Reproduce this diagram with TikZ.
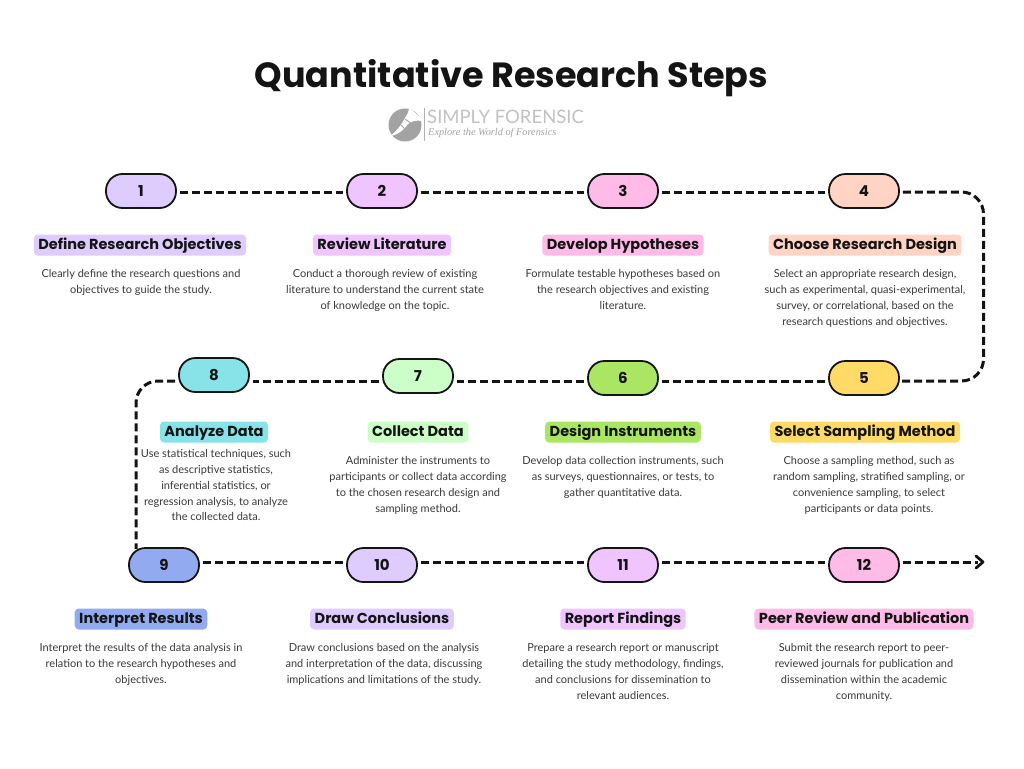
\documentclass[tikz,border=0pt]{standalone}
\usepackage{fontspec}
\setmainfont{Lato}
\newfontfamily\headfont{Poppins}
\newfontfamily\logofont{Liberation Serif}
\usetikzlibrary{arrows.meta,calc}
\definecolor{ink}{HTML}{141414}
\definecolor{bodyc}{HTML}{3A3A3A}
\definecolor{c1}{HTML}{DFCCFF}
\definecolor{c2}{HTML}{EFC4FF}
\definecolor{c3}{HTML}{FFBBE8}
\definecolor{c4}{HTML}{FFD4C4}
\definecolor{c5}{HTML}{FFDA66}
\definecolor{c6}{HTML}{ABE663}
\definecolor{c7}{HTML}{CCFFC7}
\definecolor{c8}{HTML}{88E3E8}
\definecolor{c9}{HTML}{92AAF0}
\tikzset{
  pill/.style={draw=ink,line width=1.8pt,rounded corners=16.5pt,minimum width=70pt,minimum height=34pt,inner sep=0pt,font=\headfont\fontsize{15}{15}\selectfont\bfseries,text=ink},
  tag/.style={fill=#1,rounded corners=4pt,inner xsep=4.5pt,inner ysep=4pt,text height=10.5pt,text depth=2.5pt,font=\headfont\fontsize{14.5}{15}\selectfont\bfseries,text=ink},
  desc/.style={align=center,anchor=north,inner sep=0pt,font=\fontsize{11}{15.9}\selectfont,text=bodyc},
  link/.style={draw=ink,line width=3pt,dash pattern=on 8pt off 4pt,rounded corners=22pt}
}
\begin{document}
\begin{tikzpicture}[x=1pt,y=-1pt]
\useasboundingbox (0,0) rectangle (1024,768);
\fill[white] (0,0) rectangle (1024,768);
\node[font=\headfont\fontsize{35}{40}\selectfont\bfseries,text=ink,inner sep=0pt] (title) at (511.5,78) {Quantitative Research Steps};
% logo
\fill[black!36] (405,125) circle (16.5pt);
\fill[white] (409,108) .. controls (415,112) and (419,116) .. (423,121) .. controls (416,120) and (412,121) .. (408,124) .. controls (404,130) and (398,135) .. (390,136) .. controls (397,131) and (402,124) .. (405,118) .. controls (407,115) and (409,111) .. (409,108) -- cycle;
\draw[black!36,line width=.9pt] (401,125) -- (407,131) (405,119) -- (412,124);
\draw[black!30,line width=.7pt] (424,108) -- (424,141);
\node[anchor=west,inner sep=0pt,font=\fontsize{18.5}{20}\selectfont,text=black!24] (logoa) at (427,117) {SIMPLY FORENSIC};
\node[anchor=west,inner sep=0pt,font=\logofont\fontsize{10.3}{12}\selectfont\itshape,text=black!36] (logob) at (428,133) {Explore the World of Forensics};
% pills
\foreach \n/\x/\y/\c in {1/141/191/c1,2/382/191/c2,3/623/191/c3,4/864/191/c4,5/864/378/c5,6/623/378/c6,7/418/376/c7,8/214/375/c8,9/164/565/c9,10/382/565/c1,11/623/565/c2,12/864/565/c3}
  \node[pill,fill=\c] (p\n) at (\x,\y) {\n};
\coordinate (rowa) at (0,192);
\coordinate (rowb) at (0,381);
\coordinate (rowc) at (0,562);
\coordinate (ne) at (983.5,192);
\coordinate (se) at (983.5,381);
\coordinate (nw) at (136,381);
\coordinate (sw) at (136,549);
\coordinate (endc) at (978,562);
% connectors
\draw[link] ([xshift=3pt]p1.east |- rowa) -- ([xshift=-3pt]p2.west |- rowa);
\draw[link] ([xshift=3pt]p2.east |- rowa) -- ([xshift=-3pt]p3.west |- rowa);
\draw[link] ([xshift=3pt]p3.east |- rowa) -- ([xshift=-3pt]p4.west |- rowa);
\draw[link] ([xshift=3pt]p4.east |- rowa) -- (ne) -- (se) -- ([xshift=1pt]p5.east |- rowb);
\draw[link] ([xshift=-3pt]p5.west |- rowb) -- ([xshift=3pt]p6.east |- rowb);
\draw[link] ([xshift=-3pt]p6.west |- rowb) -- ([xshift=3pt]p7.east |- rowb);
\draw[link] ([xshift=-3pt]p7.west |- rowb) -- ([xshift=3pt]p8.east |- rowb);
\draw[link] ([xshift=-3pt]p8.west |- rowb) -- (nw) -- (sw);
\draw[link] ([xshift=3pt]p9.east |- rowc) -- ([xshift=-3pt]p10.west |- rowc);
\draw[link] ([xshift=3pt]p10.east |- rowc) -- ([xshift=-3pt]p11.west |- rowc);
\draw[link] ([xshift=3pt]p11.east |- rowc) -- ([xshift=-3pt]p12.west |- rowc);
\draw[link] ([xshift=3pt]p12.east |- rowc) -- (endc);
\draw[ink,line width=2.8pt,line cap=round,line join=round] (976,556) -- (983,562) -- (976,568);
% tags
\node[tag=c1] (t1) at (140,245) {Define Research Objectives};
\node[tag=c2] (t2) at (382,245) {Review Literature};
\node[tag=c3] (t3) at (623,245) {Develop Hypotheses};
\node[tag=c4] (t4) at (865,245) {Choose Research Design};
\node[tag=c5] (t5) at (865,432) {Select Sampling Method};
\node[tag=c6] (t6) at (623,432) {Design Instruments};
\node[tag=c7] (t7) at (418,432) {Collect Data};
\node[tag=c8] (t8) at (214,432) {Analyze Data};
\node[tag=c9] (t9) at (141,619) {Interpret Results};
\node[tag=c1] (t10) at (382,619) {Draw Conclusions};
\node[tag=c2] (t11) at (623,619) {Report Findings};
\node[tag=c3] (t12) at (864,619) {Peer Review and Publication};
% descriptions
\node[desc] (d1) at (141,269) {Clearly define the research questions and\\objectives to guide the study.};
\node[desc] (d2) at (385,269) {Conduct a thorough review of existing\\literature to understand the current state\\of knowledge on the topic.};
\node[desc] (d3) at (623,269) {Formulate testable hypotheses based on\\the research objectives and existing\\literature.};
\node[desc] (d4) at (865,269) {Select an appropriate research design,\\such as experimental, quasi-experimental,\\survey, or correlational, based on the\\research questions and objectives.};
\node[desc] (d5) at (869,456) {Choose a sampling method, such as\\random sampling, stratified sampling, or\\convenience sampling, to select\\participants or data points.};
\node[desc] (d6) at (623,456) {Develop data collection instruments, such\\as surveys, questionnaires, or tests, to\\gather quantitative data.};
\node[desc] (d7) at (418,456) {Administer the instruments to\\participants or collect data according\\to the chosen research design and\\sampling method.};
\node[desc] (d8) at (216,449) {Use statistical techniques, such\\as descriptive statistics,\\inferential statistics, or\\regression analysis, to analyze\\the collected data.};
\node[desc] (d9) at (141,643) {Interpret the results of the data analysis in\\relation to the research hypotheses and\\objectives.};
\node[desc] (d10) at (384,643) {Draw conclusions based on the analysis\\and interpretation of the data, discussing\\implications and limitations of the study.};
\node[desc] (d11) at (623,643) {Prepare a research report or manuscript\\detailing the study methodology, findings,\\and conclusions for dissemination to\\relevant audiences.};
\node[desc] (d12) at (864,643) {Submit the research report to peer-\\reviewed journals for publication and\\dissemination within the academic\\community.};
\end{tikzpicture}
\end{document}
